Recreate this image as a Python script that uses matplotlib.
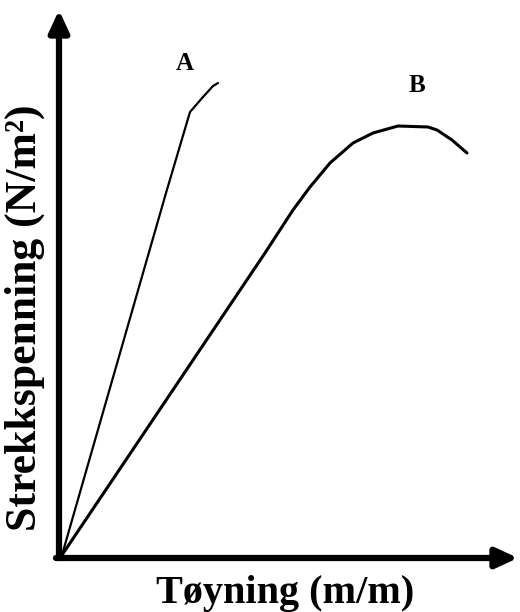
import matplotlib
matplotlib.use("Agg")
import matplotlib.pyplot as plt

# curve A (brittle) - strain / stress in arbitrary units
strain_a = [0, 104, 128, 141, 151, 156]
stress_a = [0, 362, 443, 458, 469, 472]

# curve B (ductile)
strain_b = [0, 203, 231, 248, 268, 291, 311, 336, 366, 375, 390, 405]
stress_b = [0, 302, 345, 368, 392, 412, 422, 429, 428, 425, 415, 402]

labels = ["A", "B"]
label_pos = [(123, 492), (355, 470)]

plt.rcParams['font.family'] = ['Liberation Serif', 'DejaVu Serif']

fig = plt.figure(figsize=(5.2, 6.12), dpi=100)
ax = fig.add_axes([0, 0, 1, 1])
ax.set_xlim(-62, 458)
ax.set_ylim(-57, 555)
ax.axis('off')

ax.plot(strain_a, stress_a, color='black', lw=1.6, solid_capstyle='round')
ax.plot(strain_b, stress_b, color='black', lw=2.2, solid_capstyle='round')

for lab, (x, y) in zip(labels, label_pos):
    ax.text(x, y, lab, fontsize=18, fontweight='bold', ha='center', va='center')

# axes with arrow heads
arrow = dict(arrowstyle='-|>,head_length=1.3,head_width=0.6', color='black',
             lw=4.5, shrinkA=0, shrinkB=0)
ax.annotate('', xy=(-3, 545), xytext=(-3, -3), arrowprops=arrow)
ax.annotate('', xy=(456, -3), xytext=(-6, -3), arrowprops=arrow)

ax.text(223, -38, 'Tøyning (m/m)', fontsize=29, fontweight='bold',
        ha='center', va='center')
ax.text(-37, 237, 'Strekkspenning (N/m²)', fontsize=31.5,
        fontweight='bold', ha='center', va='center', rotation=90)

fig.savefig('out.png', dpi=100)
